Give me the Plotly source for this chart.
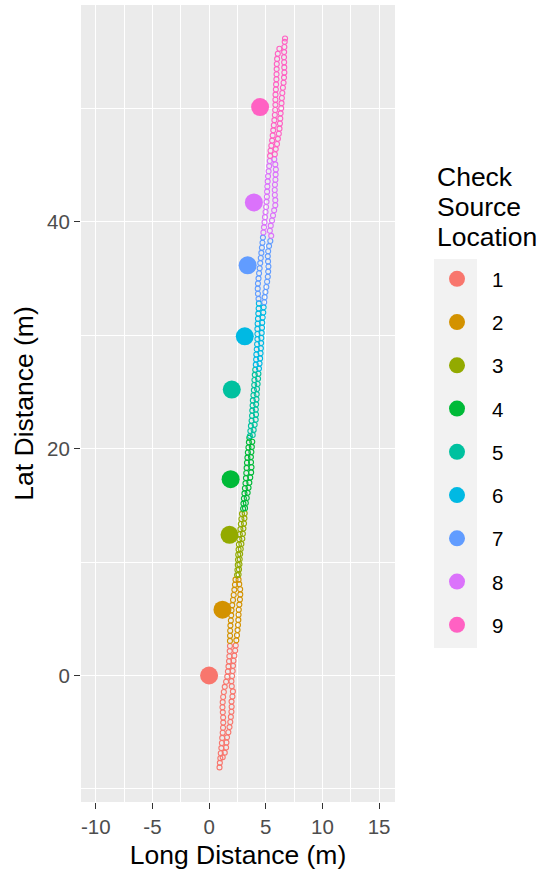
import plotly.graph_objects as go

# ---------------- data ----------------
locations = ["1", "2", "3", "4", "5", "6", "7", "8", "9"]
colors = ["#F8766D", "#D39200", "#93AA00", "#00BA38", "#00C19F",
          "#00B9E3", "#619CFF", "#DB72FB", "#FF61C3"]

# check source locations (long, lat) in metres
source_long = [0.0, 1.18, 1.8, 1.9, 2.0, 3.15, 3.4, 3.95, 4.5]
source_lat = [0.0, 5.8, 12.4, 17.3, 25.2, 29.9, 36.15, 41.7, 50.1]

# walked track points, grouped by nearest check source location
track_long_1 = [0.92, 0.95, 0.99, 1.03, 1.08, 1.13, 1.16, 1.2, 1.23, 1.25, 1.24, 1.21, 1.18, 1.2, 1.24, 1.3, 1.38, 1.5, 1.6, 1.66, 1.71, 1.76, 1.79, 1.82, 1.84,
                1.2, 1.38, 1.5, 1.53, 1.58, 1.7, 1.8, 1.87, 1.92, 1.97, 1.99, 1.98, 2.06, 2.1, 2.0, 1.97, 2.03, 2.08, 2.11, 2.15, 2.23, 2.3, 2.35]
track_lat_1 = [-8.1, -7.7, -7.3, -6.85, -6.4, -5.95, -5.5, -5.05, -4.6, -4.15, -3.7, -3.25, -2.8, -2.35, -1.9, -1.45, -1.0, -0.55, -0.1, 0.35, 0.8, 1.25, 1.7, 2.15, 2.6,
               -7.2, -6.8, -6.35, -5.9, -5.45, -5.0, -4.55, -4.1, -3.65, -3.2, -2.75, -2.3, -1.85, -1.4, -0.95, -0.5, -0.05, 0.4, 0.85, 1.3, 1.75, 2.2, 2.65]

track_long_2 = [1.84, 1.85, 1.86, 1.88, 1.92, 1.95, 1.98, 2.04, 2.11, 2.17, 2.23, 2.28, 2.33,
                2.4, 2.46, 2.51, 2.55, 2.58, 2.6, 2.62, 2.67, 2.72, 2.75, 2.74, 2.66, 2.6]
track_lat_2 = [3.05, 3.5, 3.95, 4.4, 4.85, 5.3, 5.75, 6.2, 6.65, 7.1, 7.55, 8.0, 8.45,
               3.1, 3.55, 4.0, 4.45, 4.9, 5.35, 5.8, 6.25, 6.7, 7.15, 7.6, 8.05, 8.45]

track_long_3 = [2.47, 2.5, 2.53, 2.55, 2.57, 2.6, 2.63, 2.67, 2.71, 2.76, 2.8, 2.85, 2.9,
                2.6, 2.64, 2.68, 2.7, 2.74, 2.79, 2.85, 2.93, 2.98, 3.03, 3.08, 3.12, 3.14]
track_lat_3 = [8.85, 9.3, 9.75, 10.2, 10.65, 11.1, 11.55, 12.0, 12.45, 12.9, 13.35, 13.8, 14.25,
               8.9, 9.35, 9.8, 10.25, 10.7, 11.15, 11.6, 12.05, 12.5, 12.95, 13.4, 13.85, 14.3]

track_long_4 = [3.0, 3.03, 3.07, 3.12, 3.16, 3.21, 3.25, 3.28, 3.31, 3.34, 3.38, 3.42, 3.47, 3.51, 3.55,
                3.17, 3.24, 3.32, 3.4, 3.48, 3.55, 3.63, 3.71, 3.74, 3.7, 3.69, 3.73, 3.77, 3.81]
track_lat_4 = [14.7, 15.15, 15.6, 16.05, 16.5, 16.95, 17.4, 17.85, 18.3, 18.75, 19.2, 19.65, 20.1, 20.55, 20.95,
               14.75, 15.2, 15.65, 16.1, 16.55, 17.0, 17.45, 17.9, 18.35, 18.8, 19.25, 19.7, 20.15, 20.6]

track_long_5 = [3.6, 3.64, 3.69, 3.75, 3.79, 3.81, 3.84, 3.86, 3.91, 3.95, 3.98, 4.0, 4.03, 4.07,
                3.85, 3.93, 4.02, 4.11, 4.14, 4.12, 4.15, 4.18, 4.2, 4.23, 4.28, 4.32, 4.35]
track_lat_5 = [21.1, 21.55, 22.0, 22.45, 22.9, 23.35, 23.8, 24.25, 24.7, 25.15, 25.6, 26.05, 26.5, 26.95,
               21.2, 21.65, 22.1, 22.55, 23.0, 23.45, 23.9, 24.35, 24.8, 25.25, 25.7, 26.15, 26.6]

track_long_6 = [4.12, 4.15, 4.17, 4.2, 4.23, 4.26, 4.26, 4.26, 4.28, 4.31, 4.34, 4.37, 4.39,
                4.4, 4.45, 4.5, 4.54, 4.57, 4.59, 4.61, 4.64, 4.67, 4.69, 4.73, 4.78, 4.81]
track_lat_6 = [27.4, 27.85, 28.3, 28.75, 29.2, 29.65, 30.1, 30.55, 31.0, 31.45, 31.9, 32.35, 32.8,
               27.05, 27.5, 27.95, 28.4, 28.85, 29.3, 29.75, 30.2, 30.65, 31.1, 31.55, 32.0, 32.45]

track_long_7 = [4.36, 4.31, 4.29, 4.31, 4.36, 4.41, 4.46, 4.51, 4.56, 4.61, 4.66, 4.71, 4.75,
                4.86, 4.9, 4.97, 5.05, 5.12, 5.18, 5.21, 5.23, 5.2, 5.18, 5.21, 5.29, 5.4]
track_lat_7 = [33.2, 33.65, 34.1, 34.55, 35.0, 35.45, 35.9, 36.35, 36.8, 37.25, 37.7, 38.15, 38.6,
               32.9, 33.35, 33.8, 34.25, 34.7, 35.15, 35.6, 36.05, 36.5, 36.95, 37.4, 37.85, 38.3]

track_long_8 = [4.79, 4.84, 4.89, 4.93, 4.98, 5.03, 5.07, 5.1, 5.12, 5.14, 5.17, 5.2, 5.25, 5.3, 5.35,
                5.48, 5.36, 5.44, 5.55, 5.64, 5.74, 5.84, 5.84, 5.8, 5.79, 5.81, 5.85, 5.87, 5.89, 5.84, 5.75]
track_lat_8 = [39.05, 39.5, 39.95, 40.4, 40.85, 41.3, 41.75, 42.2, 42.65, 43.1, 43.55, 44.0, 44.45, 44.9, 45.35,
               38.75, 39.2, 39.65, 40.1, 40.55, 41.0, 41.45, 41.9, 42.35, 42.8, 43.25, 43.7, 44.15, 44.6, 45.05, 45.5]

track_long_9 = [5.38, 5.42, 5.49, 5.56, 5.61, 5.66, 5.71, 5.76, 5.8, 5.83, 5.85, 5.85, 5.86, 5.89, 5.91, 5.94, 5.95, 5.96, 5.97, 6.0, 6.06, 6.2,
                5.8, 5.88, 5.99, 6.07, 6.15, 6.21, 6.25, 6.28, 6.31, 6.36, 6.39, 6.42, 6.46, 6.51, 6.57, 6.61, 6.64, 6.63, 6.62, 6.61, 6.62, 6.64, 6.67, 6.7]
track_lat_9 = [45.8, 46.25, 46.7, 47.15, 47.6, 48.05, 48.5, 48.95, 49.4, 49.85, 50.3, 50.75, 51.2, 51.65, 52.1, 52.55, 53.0, 53.45, 53.9, 54.35, 54.8, 55.25,
               45.95, 46.4, 46.85, 47.3, 47.75, 48.2, 48.65, 49.1, 49.55, 50.0, 50.45, 50.9, 51.35, 51.8, 52.25, 52.7, 53.15, 53.6, 54.05, 54.5, 54.95, 55.4, 55.85, 56.15]

track_long = [track_long_1, track_long_2, track_long_3, track_long_4, track_long_5,
              track_long_6, track_long_7, track_long_8, track_long_9]
track_lat = [track_lat_1, track_lat_2, track_lat_3, track_lat_4, track_lat_5,
             track_lat_6, track_lat_7, track_lat_8, track_lat_9]

x_ticks = [-10, -5, 0, 5, 10, 15]
y_ticks = [0, 20, 40]

# ---------------- figure ----------------
FONT = "Liberation Sans, Arial, sans-serif"
W, H = 540, 880
ML, MR, MT, MB = 81, 145, 5, 78
PW, PH = W - ML - MR, H - MT - MB


def px_x(px):
    return (px - ML) / PW


def px_y(py):
    return (H - MB - py) / PH


fig = go.Figure()

for i, loc in enumerate(locations):
    fig.add_trace(go.Scatter(
        x=track_long[i], y=track_lat[i], mode="markers",
        marker=dict(symbol="circle-open", size=5, color=colors[i],
                    line=dict(width=1.1, color=colors[i])),
        showlegend=False, legendgroup=loc, hoverinfo="skip"))

for i, loc in enumerate(locations):
    fig.add_trace(go.Scatter(
        x=[source_long[i]], y=[source_lat[i]], mode="markers", name=loc,
        legendgroup=loc,
        marker=dict(symbol="circle", size=18, color=colors[i], line=dict(width=0))))

fig.update_layout(
    width=W, height=H,
    margin=dict(l=ML, r=MR, t=MT, b=MB, autoexpand=False),
    paper_bgcolor="white", plot_bgcolor="#EBEBEB",
    font=dict(family=FONT, color="black"),
    showlegend=True,
    legend=dict(x=px_x(422), y=px_y(259), xanchor="left", yanchor="top",
                bgcolor="rgba(0,0,0,0)", borderwidth=0,
                font=dict(size=20.5, color="black", family=FONT),
                tracegroupgap=13.6, itemsizing="trace", itemwidth=60),
    xaxis=dict(range=[-11.3, 16.4], tickmode="array", tickvals=x_ticks,
               ticktext=[str(v) for v in x_ticks], showgrid=True, gridcolor="white",
               gridwidth=1.2, zeroline=False, ticks="outside", ticklen=6,
               tickwidth=1.2, tickcolor="#333333",
               tickfont=dict(size=20.5, color="#4D4D4D", family=FONT),
               minor=dict(tickvals=[-7.5, -2.5, 2.5, 7.5, 12.5], showgrid=True,
                          gridcolor="white", gridwidth=0.6, ticks=""),
               title=dict(text="Long Distance (m)", standoff=8,
                          font=dict(size=26.5, color="black", family=FONT)),
               showline=False, automargin=False),
    yaxis=dict(range=[-11.15, 59.1], tickmode="array", tickvals=y_ticks,
               ticktext=[str(v) for v in y_ticks], showgrid=True, gridcolor="white",
               gridwidth=1.2, zeroline=False, ticks="outside", ticklen=6,
               tickwidth=1.2, tickcolor="#333333",
               tickfont=dict(size=20.5, color="#4D4D4D", family=FONT),
               minor=dict(tickvals=[-10, 10, 30, 50], showgrid=True,
                          gridcolor="white", gridwidth=0.6, ticks=""),
               title=dict(text="Lat Distance (m)", standoff=5,
                          font=dict(size=26.5, color="black", family=FONT)),
               showline=False, automargin=False),
    shapes=[dict(type="rect", xref="paper", yref="paper", layer="below",
                 x0=px_x(434), x1=px_x(477), y0=px_y(648), y1=px_y(259),
                 fillcolor="#F2F2F2", line=dict(width=0))],
)

for txt, py in [("Check", 177), ("Source", 207), ("Location", 237)]:
    fig.add_annotation(x=px_x(435), y=px_y(py), xref="paper", yref="paper",
                       text=txt, showarrow=False, xanchor="left", yanchor="middle",
                       font=dict(size=26.5, color="black", family=FONT))

fig.write_html("out.html")
